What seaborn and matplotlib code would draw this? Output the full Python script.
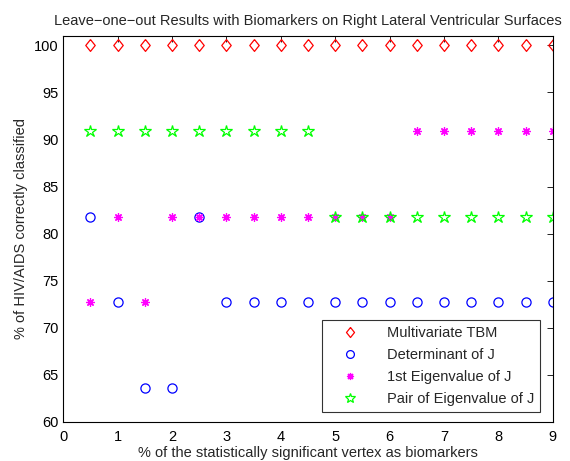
import matplotlib
matplotlib.use("Agg")
import matplotlib.pyplot as plt
import seaborn as sns
import numpy as np

sns.set_style("white")
plt.rcParams['font.family'] = ['Liberation Sans', 'DejaVu Sans']

x = [0.5, 1, 1.5, 2, 2.5, 3, 3.5, 4, 4.5, 5, 5.5, 6, 6.5, 7, 7.5, 8, 8.5, 9]
multivariate_tbm = [100] * 18
determinant_j = [81.8, 72.7, 63.6, 63.6, 81.8, 72.7, 72.7, 72.7, 72.7,
                 72.7, 72.7, 72.7, 72.7, 72.7, 72.7, 72.7, 72.7, 72.7]
first_eig_j = [72.7, 81.8, 72.7, 81.8, 81.8, 81.8, 81.8, 81.8, 81.8,
               81.8, 81.8, 81.8, 90.9, 90.9, 90.9, 90.9, 90.9, 90.9]
pair_eig_j = [90.9, 90.9, 90.9, 90.9, 90.9, 90.9, 90.9, 90.9, 90.9,
              81.8, 81.8, 81.8, 81.8, 81.8, 81.8, 81.8, 81.8, 81.8]

labels = ["Multivariate TBM", "Determinant of J", "1st Eigenvalue of J",
          "Pair of Eigenvalue of J"]
series = [multivariate_tbm, determinant_j, first_eig_j, pair_eig_j]
colors = ["#ff0000", "#0000ff", "#ff00ff", "#00ff00"]
diamond = [(0, 1), (0.8, 0), (0, -1), (-0.8, 0), (0, 1)]
markers = [diamond, "o", (8, 2, 0), "*"]
sizes = [8.5, 6.6, 6.0, 9.0]

fig = plt.figure(figsize=(5.7, 4.61), dpi=100)
ax = fig.add_axes([0.111, 0.085, 0.859, 0.837])

for lab, vals, c, m, s in zip(labels, series, colors, markers, sizes):
    sns.lineplot(x=x, y=vals, ax=ax, color=c, marker=m, linestyle='',
                 markersize=s, markerfacecolor='none', markeredgecolor=c,
                 markeredgewidth=0.9, label=lab, sort=False)

ax.set_xlim(0, 9)
ax.set_ylim(60, 101)
ax.set_xticks(range(0, 10))
ax.set_yticks(range(60, 101, 5))
ax.tick_params(direction='in', top=True, right=True, length=4, labelsize=10.5,
               width=0.6, colors='black')
ax.tick_params(axis='x', pad=6)
for sp in ax.spines.values():
    sp.set_color('black')
    sp.set_linewidth(0.8)

ax.set_title("Leave\u2212one\u2212out Results with Biomarkers on Right Lateral Ventricular Surfaces",
             fontsize=10.5, pad=8)
ax.set_xlabel("% of the statistically significant vertex as biomarkers", fontsize=10.5, labelpad=1)
ax.set_ylabel("% of HIV/AIDS correctly classified", fontsize=10.5, labelpad=4)

leg = ax.legend(loc='lower right', fontsize=10.5, frameon=True, fancybox=False,
                edgecolor='black', borderpad=0.4, handletextpad=1.0,
                handlelength=3.0, labelspacing=0.55, markerscale=0.85,
                borderaxespad=0, bbox_to_anchor=(0.973, 0.025))
leg.get_frame().set_linewidth(0.8)

fig.savefig("out.png", dpi=100)
